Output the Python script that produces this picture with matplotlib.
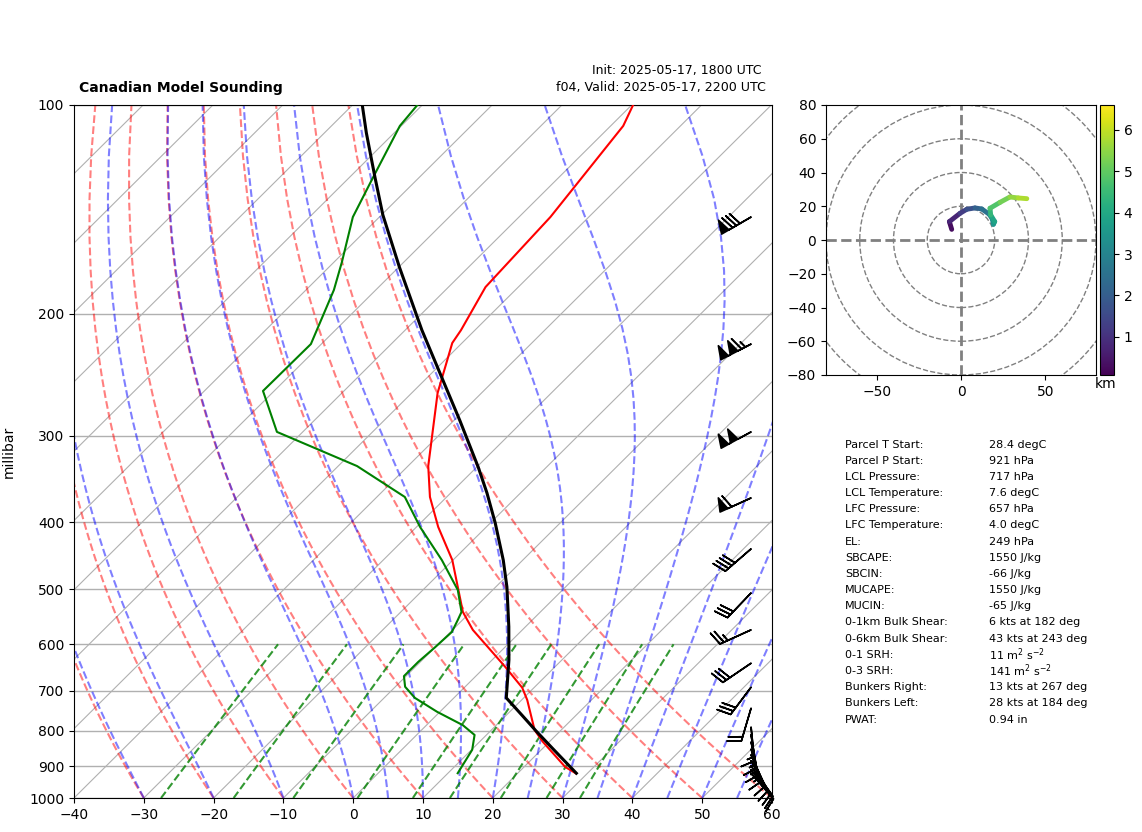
import numpy as np
import matplotlib
matplotlib.use('Agg')
import matplotlib.pyplot as plt
from matplotlib.collections import LineCollection
from matplotlib.patches import Circle
from matplotlib.ticker import FixedLocator, NullLocator, ScalarFormatter

W, H = 1142, 832

# ---------- data ----------
temp_p = [100, 107.2, 145.1, 183.1, 211.3, 220.5, 260.3, 331.9, 367.8, 406.3, 453.6,
          539, 572, 647, 693, 722, 798, 830, 902, 921]
temp_t = [-59.8, -58.2, -55.5, -54.7, -52.0, -51.4, -46.3, -37.1, -32.4, -26.9, -20.1,
          -11.1, -7.1, 2.9, 8.3, 10.8, 16.2, 19.1, 25.9, 28.3]

dew_p = [100, 107.2, 127.3, 145.1, 168.4, 184.9, 221.3, 258.6, 296.3, 331.9, 367.8, 406.3,
         453.6, 501, 539, 553, 576, 606, 636, 667, 691, 717, 751, 785, 811, 852, 921]
dew_t = [-90.7, -90.2, -86.6, -83.8, -78.9, -76.0, -71.5, -71.6, -63.7, -47.3, -36.0, -29.5,
         -21.6, -15.0, -11.3, -10.7, -9.8, -10.0, -10.3, -10.3, -8.6, -5.6, -0.4, 5.2, 8.3, 10.1, 11.4]

parcel_p = [100, 109.7, 127.3, 144.1, 171.4, 211.3, 247, 285, 333, 363, 401, 453.6,
            496, 566, 632, 717, 760, 800, 850, 921]
parcel_t = [-98.6, -94.0, -86.3, -79.8, -69.9, -57.6, -48.0, -39.2, -29.8, -24.8, -19.3, -12.8,
            -8.4, -2.4, 2.4, 7.5, 12.3, 16.5, 21.6, 28.4]

barb_p = [145.1, 221.3, 296.3, 369, 437, 506, 572, 639, 692, 742, 790, 811, 830,
          850, 867, 884, 899, 911, 921]
barb_u = [69, 102, 88, 55, 30, 21, 22, 25, 18, 5.6, -1.5, -2.5, -3,
          -4, -5, -5.5, -5.8, -5.8, -5.5]
barb_v = [40, 53, 48, 25, 26, 22, 10, 17, 24, 19, 15, 15, 14,
          13, 11, 9.5, 8, 7, 6.3]

hodo_u = [-5.5, -6.9, -0.6, 3.4, 8.3, 12.3, 16.8, 18.6, 19.2, 20.0, 17.6, 17.2, 23.1, 29.0, 34.0, 39.0]
hodo_v = [6.3, 10.9, 15.8, 18.2, 19.0, 18.4, 15.2, 12.3, 9.3, 10.9, 14.8, 18.8, 22.3, 25.5, 24.9, 24.5]
hodo_z = [0.1, 0.5, 1.0, 1.5, 1.9, 2.3, 2.7, 3.0, 3.4, 3.7, 4.2, 4.6, 5.0, 5.4, 5.7, 5.9]

stat_names = ['Parcel T Start:', 'Parcel P Start:', 'LCL Pressure:', 'LCL Temperature:',
              'LFC Pressure:', 'LFC Temperature:', 'EL:', 'SBCAPE:', 'SBCIN:', 'MUCAPE:',
              'MUCIN:', '0-1km Bulk Shear:', '0-6km Bulk Shear:', '0-1 SRH:', '0-3 SRH:',
              'Bunkers Right:', 'Bunkers Left:', 'PWAT:']
stat_values = ['28.4 degC', '921 hPa', '717 hPa', '7.6 degC', '657 hPa', '4.0 degC', '249 hPa',
               '1550 J/kg', '-66 J/kg', '1550 J/kg', '-65 J/kg', '6 kts at 182 deg',
               '43 kts at 243 deg', r'11 m$^{2}$ s$^{-2}$', r'141 m$^{2}$ s$^{-2}$',
               '13 kts at 267 deg', '28 kts at 184 deg', '0.94 in']

mixing_ratios = [0.0004, 0.001, 0.002, 0.004, 0.007, 0.01, 0.016, 0.024, 0.032]
pressure_ticks = list(range(100, 1001, 100))
temperature_ticks = list(range(-40, 61, 10))

# ---------- helpers ----------
fig = plt.figure(figsize=(W / 100, H / 100), dpi=100)


def axes_px(x0, y0, x1, y1):
    return fig.add_axes([x0 / W, 1 - y1 / H, (x1 - x0) / W, (y1 - y0) / H])


def text_px(x, y, s, **kw):
    return fig.text(x / W, 1 - y / H, s, **kw)


ax = axes_px(74, 105, 772, 798)
SKEW = 99.9  # degrees of x per decade of pressure


def sk(t, p):
    return np.asarray(t, float) + SKEW * np.log10(1000.0 / np.asarray(p, float))


def es(tc):
    return 6.112 * np.exp(17.67 * tc / (tc + 243.5))


def moist_slope(tk, p):
    rs = 0.62197 * es(tk - 273.15) / (p - es(tk - 273.15))
    Rd, Cp, Lv = 287.05, 1005.0, 2.501e6
    return (Rd * tk + Lv * rs) / (Cp + Lv ** 2 * rs * 0.62197 / (Rd * tk ** 2)) / p


def moist_adiabat(t0, ps):
    out = [t0 + 273.15]
    tk = out[0]
    for a, b in zip(ps[:-1], ps[1:]):
        n = 20
        h = (b - a) / n
        p = a
        for _ in range(n):
            k1 = moist_slope(tk, p)
            k2 = moist_slope(tk + h * k1 / 2, p + h / 2)
            k3 = moist_slope(tk + h * k2 / 2, p + h / 2)
            k4 = moist_slope(tk + h * k3, p + h)
            tk += h * (k1 + 2 * k2 + 2 * k3 + k4) / 6
            p += h
        out.append(tk)
    return np.array(out) - 273.15


# ---------- skew-T background ----------
ax.set_yscale('log')
ps = np.linspace(1000, 100, 50)
for p in pressure_ticks:
    ax.axhline(p, color='#b0b0b0', lw=1.0, zorder=1)
for t in range(-130, 61, 10):
    ax.plot(sk([t, t], [1000, 100]), [1000, 100], color='#b0b0b0', lw=0.8, zorder=1)
for t0 in range(-40, 61, 10):
    ax.plot(sk((t0 + 273.15) * (ps / 1000) ** 0.2857 - 273.15, ps), ps,
            color='r', ls='--', alpha=0.5, lw=1.5, zorder=2)
for t0 in list(range(-40, 0, 10)) + list(range(0, 61, 5)):
    ax.plot(sk(moist_adiabat(float(t0), ps), ps), ps,
            color='b', ls='--', alpha=0.5, lw=1.5, zorder=2)
mp = np.linspace(1000, 600, 50)
for w in mixing_ratios:
    lne = np.log(mp * w / (0.622 + w) / 6.112)
    ax.plot(sk(243.5 * lne / (17.67 - lne), mp), mp, color='g', ls='--', alpha=0.8, lw=1.5, zorder=2)

# ---------- profiles ----------
ax.plot(sk(temp_t, temp_p), temp_p, color='r', lw=1.5, zorder=4)
ax.plot(sk(dew_t, dew_p), dew_p, color='g', lw=1.5, zorder=4)
ax.plot(sk(parcel_t, parcel_p), parcel_p, color='k', lw=2.2, zorder=5)
ax.barbs(np.full(len(barb_p), 0.97), barb_p, barb_u, barb_v, length=7,
         transform=ax.get_yaxis_transform(), clip_on=False, color='k', linewidth=1.2, zorder=6)

ax.set_xlim(-40, 60)
ax.set_ylim(1000, 100)
ax.set_xticks(temperature_ticks)
ax.yaxis.set_major_locator(FixedLocator(pressure_ticks))
ax.yaxis.set_minor_locator(NullLocator())
ax.yaxis.set_major_formatter(ScalarFormatter())
ax.set_ylabel('millibar')
ax.yaxis.set_label_coords((16 - 74) / 698, 0.5)

text_px(79, 88, 'Canadian Model Sounding', fontsize=10, fontweight='bold', va='center', ha='left')
text_px(762, 70.5, 'Init: 2025-05-17, 1800 UTC', fontsize=9, va='center', ha='right')
text_px(766, 88, 'f04, Valid: 2025-05-17, 2200 UTC', fontsize=9.1, va='center', ha='right')

# ---------- hodograph ----------
hax = axes_px(826, 105, 1096, 375)
hax.set_xlim(-80, 80)
hax.set_ylim(-80, 80)
hax.set_xticks([-50, 0, 50])
hax.set_yticks(range(-80, 81, 20))
for r in (20, 40, 60, 80, 100):
    hax.add_patch(Circle((0, 0), r, fill=False, ec='gray', ls='--', lw=1.0))
hax.axhline(0, color='gray', ls='--', lw=2)
hax.axvline(0, color='gray', ls='--', lw=2)
pts = np.column_stack([hodo_u, hodo_v])
segs = np.stack([pts[:-1], pts[1:]], axis=1)
zmid = (np.array(hodo_z[:-1]) + np.array(hodo_z[1:])) / 2
lc = LineCollection(segs, cmap='viridis', norm=plt.Normalize(0.08, 6.6), linewidths=3.5, zorder=4,
                    capstyle='round')
lc.set_array(zmid)
hax.add_collection(lc)

cax = axes_px(1100, 105, 1114, 375)
cb = fig.colorbar(lc, cax=cax)
cb.set_ticks([1, 2, 3, 4, 5, 6])
text_px(1106, 384, 'km', fontsize=10, ha='center', va='center')

# ---------- stats table ----------
for i, (name, value) in enumerate(zip(stat_names, stat_values)):
    y = 444.5 + i * 16.18
    text_px(845, y, name, fontsize=8, va='center', ha='left')
    text_px(989, y, value, fontsize=8, va='center', ha='left')

fig.savefig('out.png', dpi=100)
